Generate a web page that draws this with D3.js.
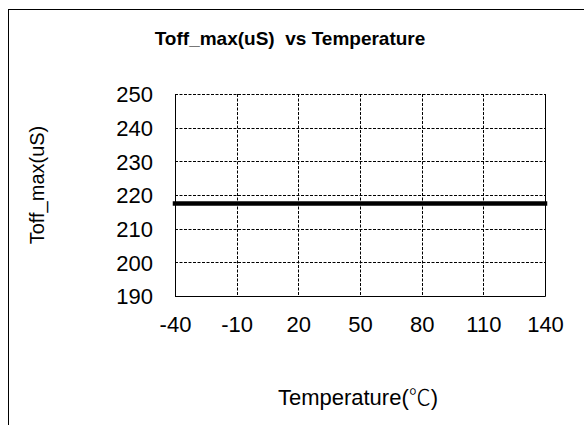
<!DOCTYPE html>
<html>
<head>
<meta charset="utf-8">
<script src="https://cdn.jsdelivr.net/npm/d3@7"></script>
<style>
  body { margin: 0; background: #fff; }
  text { font-family: "Liberation Sans", Arial, "Noto Sans CJK SC", sans-serif; fill: #000; }
</style>
</head>
<body>
<svg id="chart" width="584" height="425"></svg>
<script>
// data
var temps = [-40, -10, 20, 50, 80, 110, 140];
var toffMax = [217.5, 217.5, 217.5, 217.5, 217.5, 217.5, 217.5];
var yTicks = [190, 200, 210, 220, 230, 240, 250];

var margin = {top: 94, right: 39, bottom: 129, left: 175},
    width = 584 - margin.left - margin.right,
    height = 425 - margin.top - margin.bottom;

var svg = d3.select("#chart");

// outer frame (runs off the right and bottom edge)
svg.append("rect")
    .attr("x", 8.5)
    .attr("y", 9.5)
    .attr("width", 700)
    .attr("height", 600)
    .attr("fill", "none")
    .attr("stroke", "#000")
    .attr("stroke-width", 1);

var g = svg.append("g")
    .attr("transform", "translate(" + margin.left + "," + margin.top + ")");

var x = d3.scaleLinear()
    .domain([-40, 140])
    .range([0, width]);

var y = d3.scaleLinear()
    .domain([190, 250])
    .range([height, 0]);

// dashed grid
g.append("g")
    .selectAll("line")
    .data(yTicks)
    .enter()
    .append("line")
    .attr("x1", 0)
    .attr("x2", width)
    .attr("y1", function (d) { return Math.round(y(d)) + 0.5; })
    .attr("y2", function (d) { return Math.round(y(d)) + 0.5; })
    .attr("stroke", "#000")
    .attr("stroke-width", 1)
    .attr("stroke-dasharray", "3,1.5");

g.append("g")
    .selectAll("line")
    .data(temps)
    .enter()
    .append("line")
    .attr("x1", function (d) { return Math.round(x(d)) + 0.5; })
    .attr("x2", function (d) { return Math.round(x(d)) + 0.5; })
    .attr("y1", 0)
    .attr("y2", height)
    .attr("stroke", "#000")
    .attr("stroke-width", 1)
    .attr("stroke-dasharray", "3,1.5");

// plot border: left, bottom, right solid
g.append("path")
    .attr("d", "M0.5,0V" + (height + 0.5) + "H" + (width + 0.5) + "V0")
    .attr("fill", "none")
    .attr("stroke", "#000")
    .attr("stroke-width", 1);

// axes (labels only)
var yAxis = g.append("g")
    .call(d3.axisLeft(y).tickValues(yTicks).tickSize(0).tickPadding(22));
yAxis.select(".domain").remove();
yAxis.selectAll("text")
    .style("font-size", "22px")
    .attr("dy", "0.36em");

var xAxis = g.append("g")
    .attr("transform", "translate(0," + height + ")")
    .call(d3.axisBottom(x).tickValues(temps).tickSize(0).tickPadding(20)
        .tickFormat(function (d) { return String(d); }));
xAxis.select(".domain").remove();
xAxis.selectAll("text")
    .style("font-size", "22px");

// data line
var line = d3.line()
    .x(function (d, i) { return x(temps[i]); })
    .y(function (d) { return y(d); });

g.append("path")
    .datum(toffMax)
    .attr("d", line)
    .attr("fill", "none")
    .attr("stroke", "#000")
    .attr("stroke-width", 4.5)
    .attr("stroke-linecap", "square");

// title and axis titles
svg.append("text")
    .attr("x", 290)
    .attr("y", 45)
    .attr("text-anchor", "middle")
    .style("font-size", "19px")
    .style("font-weight", "bold")
    .style("white-space", "pre")
    .text("Toff_max(uS)  vs Temperature");

svg.append("text")
    .attr("transform", "translate(44,185) rotate(-90)")
    .attr("text-anchor", "middle")
    .style("font-size", "20px")
    .text("Toff_max(uS)");

var xTitle = svg.append("text")
    .attr("x", 358)
    .attr("y", 405)
    .attr("text-anchor", "middle")
    .style("font-size", "22px");
xTitle.append("tspan").text("Temperature(");
xTitle.append("tspan")
    .style("font-family", "\"Noto Sans CJK SC\"")
    .style("font-weight", "300")
    .text("℃");
xTitle.append("tspan").text(")");
</script>
</body>
</html>
